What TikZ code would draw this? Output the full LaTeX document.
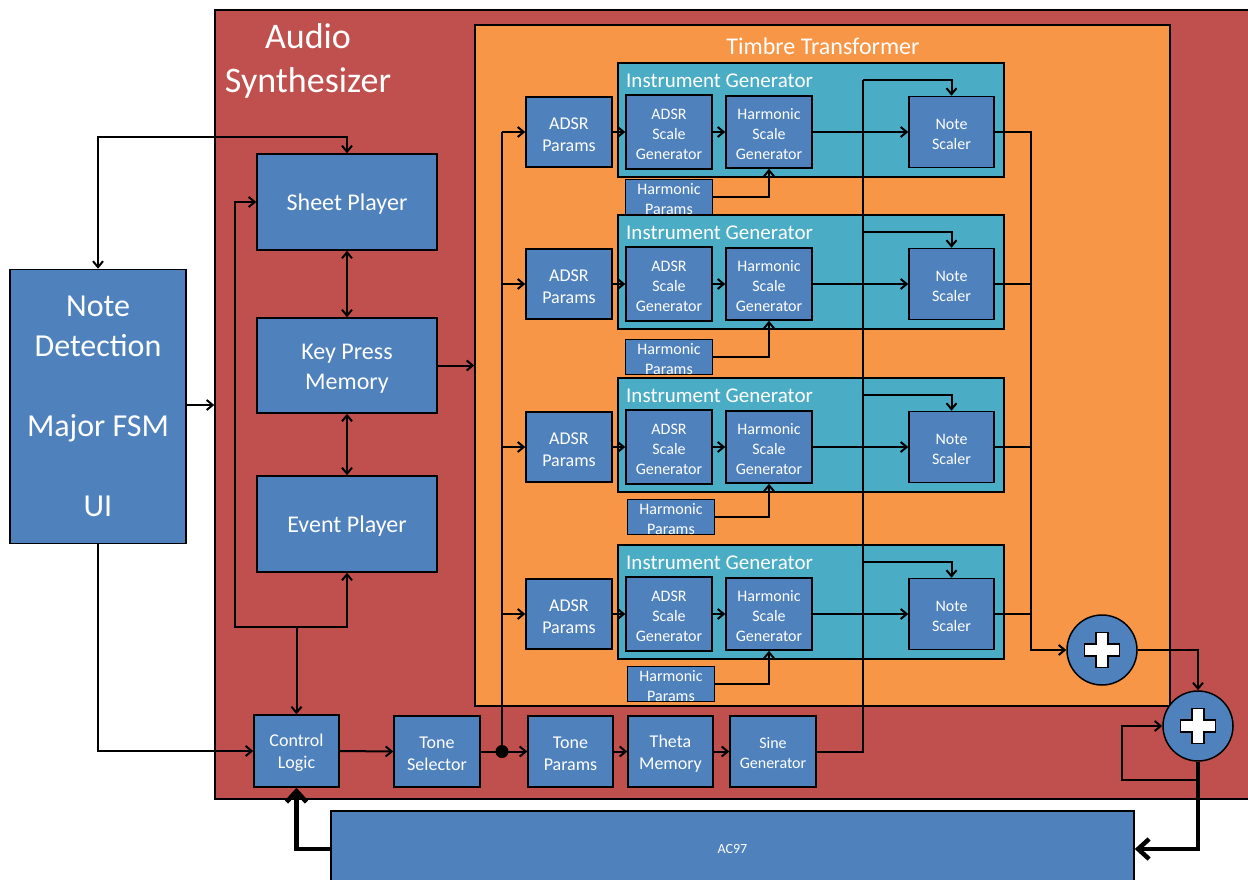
\documentclass[tikz,border=0pt]{standalone}
\usepackage{fontspec}
\setmainfont{Carlito}
\usetikzlibrary{arrows.meta}
\definecolor{boxblue}{HTML}{4F81BD}
\definecolor{synred}{HTML}{C0504D}
\definecolor{ttorange}{HTML}{F79646}
\definecolor{igteal}{HTML}{4BACC6}
\newcommand{\fsz}[2]{\fontsize{#1}{#2}\selectfont}
\newcommand{\up}{\rule{0pt}{0.9em}}

\begin{document}
\begin{tikzpicture}[x=1pt, y=-1pt,
  blk/.style={draw, line width=1.5, fill=boxblue, text=white, align=center, inner sep=0},
  area/.style={draw, line width=1.5, inner sep=0},
  line/.style={line width=2},
  conn/.style={line width=2, -{Straight Barb[length=6pt,width=10pt]}},
  both/.style={line width=2, {Straight Barb[length=6pt,width=10pt]}-{Straight Barb[length=6pt,width=10pt]}},
  fat/.style={line width=4.5, -{Straight Barb[length=11pt,width=20pt]}},
  sum/.style={circle, draw, line width=1.5, fill=boxblue, minimum size=70, inner sep=0,
    path picture={\draw[fill=white, line width=1.2] ([shift={(-6,-17.5)}]path picture bounding box.center)
      -- ++(12,0) -- ++(0,11.5) -- ++(11.5,0) -- ++(0,12) -- ++(-11.5,0) -- ++(0,11.5)
      -- ++(-12,0) -- ++(0,-11.5) -- ++(-11.5,0) -- ++(0,-12) -- ++(11.5,0) -- cycle;}}]
  \useasboundingbox (0,0) rectangle (1248,880);

  % containers
  \node[area, fill=synred, minimum width=1045, minimum height=789] (synth) at (737.5,404.5) {};
  \node[area, fill=ttorange, minimum width=695, minimum height=681] (tt) at (822.5,365.5) {};
  \node[text=white, align=center, font=\fsz{36}{44}] (synthlbl) at (308,61) {Audio\\Synthesizer};
  \node[text=white, font=\fsz{24}{28}] (ttlbl) at (823,46) {Timbre Transformer};

  % left column
  \node[blk, minimum width=176, minimum height=274, font=\fsz{32}{40}] (nd) at (98,406.5)
    {Note\\Detection\\[40pt]Major FSM\\[40pt]UI};
  \node[blk, minimum width=180, minimum height=96, font=\fsz{24}{30}] (sheet) at (347,202) {\up Sheet Player};
  \node[blk, minimum width=180, minimum height=95, font=\fsz{24}{30}] (kpm) at (347,365.5) {\up Key Press\\Memory};
  \node[blk, minimum width=180, minimum height=96, font=\fsz{24}{30}] (evt) at (347,524) {\up Event Player};

  % bottom row
  \node[blk, minimum width=85, minimum height=72, font=\fsz{18}{22}] (ctrl) at (296.5,751) {\up Control\\Logic};
  \node[blk, minimum width=86, minimum height=71, font=\fsz{18}{22}] (tsel) at (437,751.5) {\up Tone\\Selector};
  \coordinate (dot) at (502,751.5);
  \node[blk, minimum width=85, minimum height=71, font=\fsz{18}{22}] (tpar) at (570.5,751.5) {\up Tone\\Params};
  \node[blk, minimum width=85, minimum height=71, font=\fsz{18}{22}] (theta) at (670.5,751.5) {\up Theta\\Memory};
  \node[blk, minimum width=86, minimum height=71, font=\fsz{16}{20}] (sine) at (773,751.5) {\up Sine\\Generator};
  \node[blk, minimum width=803, minimum height=76, font=\fsz{14}{17}] (ac97) at (732.5,849) {AC97};

  % adders
  \coordinate (mix) at (1031,650);
  \node[sum] (add1) at (1102,650) {};
  \node[sum] (add2) at (1198,726) {};

  % instrument generators
  \foreach \i/\cy/\hy/\hx in {1/132/197/669, 2/284/357/669, 3/447/517/671, 4/614/684/671}{
    \node[area, fill=igteal, minimum width=386, minimum height=114] (ig\i) at (811,\cy-12) {};
    \node[text=white, anchor=west, inner sep=0, font=\fsz{21}{24}] (igl\i) at (626,\cy-51) {Instrument Generator};
    \node[blk, minimum width=86, minimum height=70, font=\fsz{18}{22}] (adsr\i) at (569,\cy) {\up ADSR\\Params};
    \node[blk, minimum width=86, minimum height=74, font=\fsz{16}{20}] (asg\i) at (669,\cy) {\up ADSR\\Scale\\Generator};
    \node[blk, minimum width=86, minimum height=72, font=\fsz{16}{20}] (hsg\i) at (769,\cy) {\up Harmonic\\Scale\\Generator};
    \node[blk, minimum width=85, minimum height=71, font=\fsz{16}{20}] (ns\i) at (951.5,\cy) {\up Note\\Scaler};
    \node[blk, minimum width=87, minimum height=35, font=\fsz{16}{20}] (hp\i) at (\hx,\hy) {\up Harmonic\\Params};
    \coordinate (tap\i) at (863,\cy-52);
    \draw[conn] (dot |- adsr\i.west) -- (adsr\i.west);
    \draw[conn] (adsr\i.east) -- (asg\i.west);
    \draw[conn] (asg\i.east) -- (hsg\i.west);
    \draw[conn] (hsg\i.east) -- (ns\i.west);
    \draw[conn] (hp\i.east) -| (hsg\i.south);
    \draw[conn] (tap\i) -| (ns\i.north);
  }
  \foreach \i in {2,3,4}
    \draw[line] (ns\i.east) -- (ns\i.east -| mix);
  \draw[conn] (ns1.east) -| (mix) -- (add1.west);
  \draw[line] (dot) -- (dot |- adsr1.west);
  \draw[line] (sine.east) -| (tap1);

  % control paths
  \draw[both] (nd.north) -- ++(0,-132) -| (sheet.north);
  \draw[both] (sheet.south) -- (kpm.north);
  \draw[both] (kpm.south) -- (evt.north);
  \draw[conn] (kpm.east) -- (kpm.east -| tt.west);
  \draw[conn] (nd.east |- 0,405) -- (synth.west |- 0,405);
  \draw[conn] (nd.south) |- (ctrl.west);
  \coordinate (fork) at (296.5,627);
  \draw[conn] (fork) -- (ctrl.north);
  \draw[conn] (fork) -| (evt.south);
  \draw[conn] (fork) -- ++(-61.5,0) |- (sheet.west);
  \draw[conn] (ctrl.east) -- (tsel.west);
  \draw[line] (tsel.east) -- (dot);
  \fill (dot) circle (6.5);
  \draw[conn] (dot) -- (tpar.west);
  \draw[conn] (tpar.east) -- (theta.west);
  \draw[conn] (theta.east) -- (sine.west);

  % output paths
  \draw[conn] (add1.east) -| (add2.north);
  \coordinate (fb) at (1198,780);
  \draw[conn] (fb) -| ++(-76,-54) -- (add2.west);
  \draw[fat] (add2.south) |- (ac97.east);
  \draw[fat] (ac97.west) -| (ctrl.south);
\end{tikzpicture}
\end{document}
